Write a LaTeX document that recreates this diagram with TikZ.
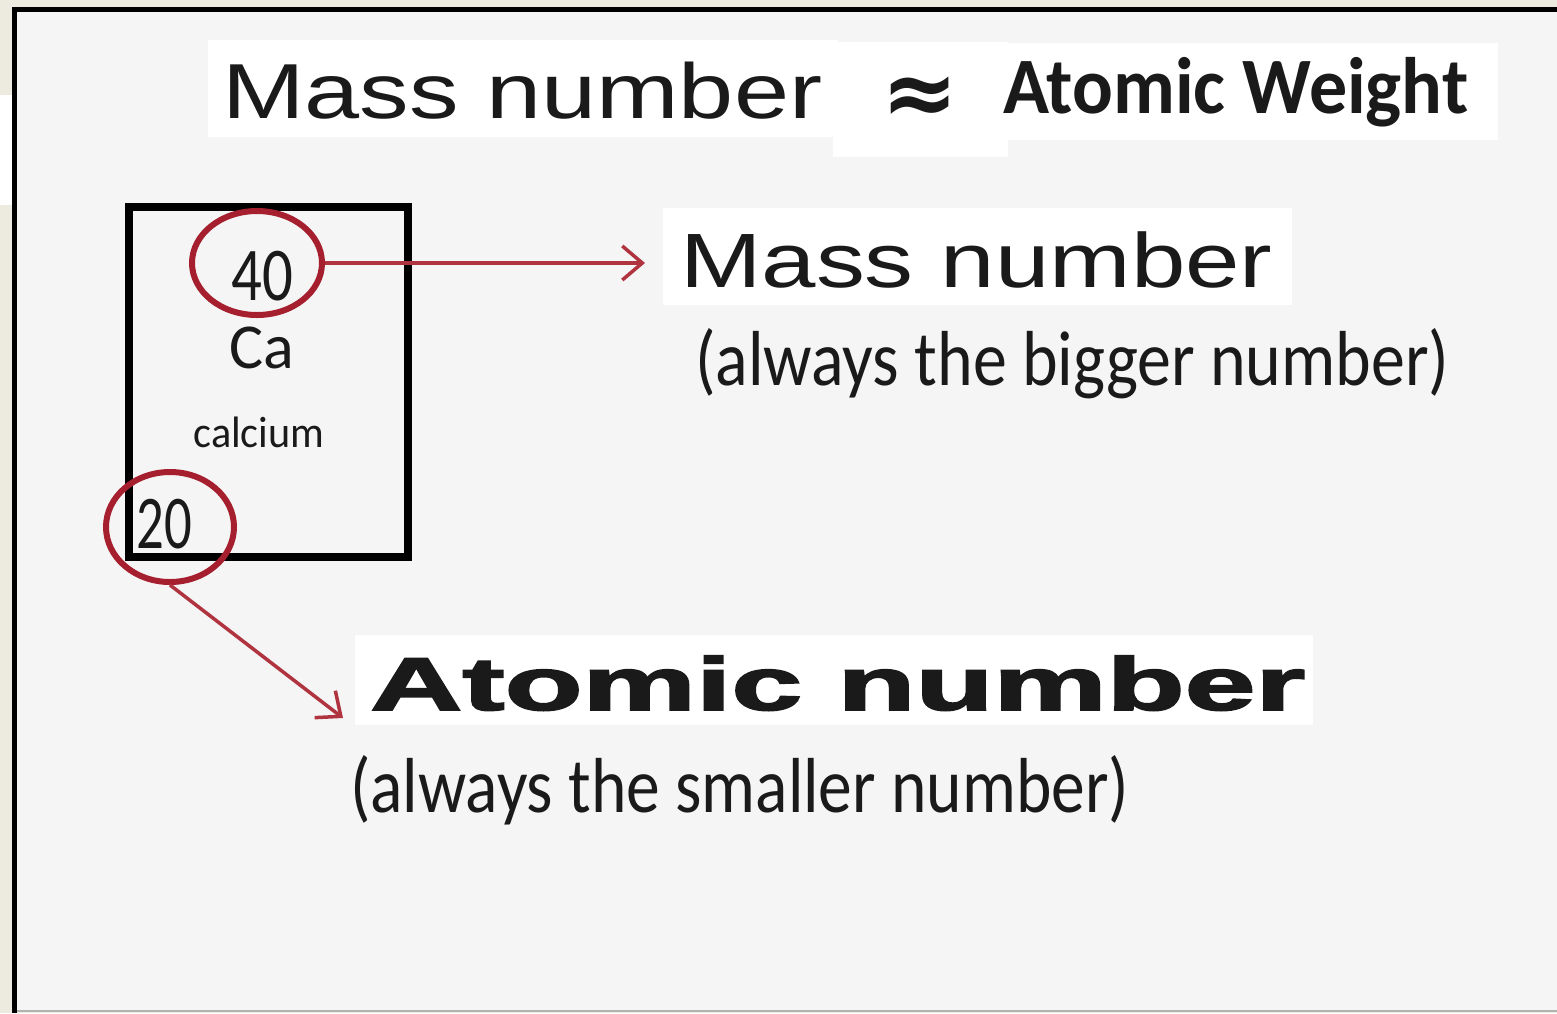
\documentclass[tikz,border=0pt]{standalone}
\usepackage{fontspec}
\usepackage{graphicx}
\usetikzlibrary{shapes.geometric,arrows.meta}
\setmainfont{Liberation Sans}
\newfontfamily\arialf{Liberation Sans}
\newfontfamily\calf{Carlito}
\newfontfamily\heavyf[FakeBold=2]{Liberation Sans Bold}
\newfontfamily\symf{DejaVu Sans}
\definecolor{beige}{HTML}{EDEADF}
\definecolor{panel}{HTML}{F5F5F5}
\definecolor{ered}{HTML}{A51F2E}
\definecolor{ared}{HTML}{B0343F}
\definecolor{ink}{HTML}{1A1A1A}
\newcommand{\fsz}[1]{\fontsize{#1}{#1}\selectfont}
\begin{document}
\begin{tikzpicture}[x=1pt,y=-1pt,
  wbox/.style={fill=white, inner sep=0, outer sep=0, anchor=north west},
  txt/.style={inner sep=0, anchor=base west, text=ink},
  ctxt/.style={inner sep=0, anchor=base, text=ink},
  ering/.style={ellipse, draw=ered, line width=6pt, inner sep=0},
  arr/.style={draw=ared, line width=3.5pt, -{Straight Barb[length=20pt,width=34pt]}}]
\useasboundingbox (0,0) rectangle (1557,1013);
% background and frame
\fill[beige] (0,0) rectangle (1557,1013);
\fill[white] (0,95) rectangle (12,205);
\fill[panel] (14,9) rectangle (1557,1011);
\draw[gray!60, line width=2pt] (14,1011) -- (1557,1011);
\draw[black, line width=5pt] (14,7) -- (14,1013);
\draw[black, line width=5pt] (12,9) -- (1557,9);
% white label boxes
\node[wbox, minimum width=630, minimum height=97] (b1) at (208,40) {};
\node[wbox, minimum width=175, minimum height=115] (b2) at (833,42) {};
\node[wbox, minimum width=506, minimum height=97] (b3) at (992,43) {};
\node[wbox, minimum width=629, minimum height=97] (b4) at (663,208) {};
\node[wbox, minimum width=958, minimum height=90] (b5) at (355,635) {};
% texts
\node[txt] (t1) at (222,118) {\arialf\fsz{78}\scalebox{1.27}[1]{Mass number}};
\node[ctxt] (t2) at (920,124) {\symf\bfseries\fsz{92}≈};
\node[txt] (t3) at (1003,113) {\calf\bfseries\fsz{80}\scalebox{0.95}[1]{Atomic Weight}};
\node[txt] (t4) at (680,287) {\arialf\fsz{77}\scalebox{1.27}[1]{Mass number}};
\node[txt] (t5) at (695,385) {\calf\fsz{78}\scalebox{0.87}[1]{(always the bigger number)}};
\node[txt] (t6) at (370,710) {\heavyf\fsz{75}\scalebox{1.7}[1]{Atomic number}};
\node[txt] (t7) at (350,812) {\calf\fsz{78}\scalebox{0.865}[1]{(always the smaller number)}};
% element box
\node[draw=black, line width=8pt, minimum width=279, minimum height=350, inner sep=0, outer sep=0, anchor=north west] (pbox) at (129,207) {};
\node[ctxt] (n40) at (262,300) {\calf\fsz{76}\scalebox{0.8}[1]{40}};
\node[ctxt] (nCa) at (262,368) {\calf\fsz{64}Ca};
\node[ctxt] (ncal) at (259,447) {\calf\fsz{44}\scalebox{0.96}[1]{calcium}};
\node[ctxt] (n20) at (164,548) {\calf\fsz{76}\scalebox{0.72}[1]{20}};
% red rings
\node[ering, minimum width=130, minimum height=104] (e40) at (257,263) {};
\node[ering, minimum width=128, minimum height=110] (e20) at (170,527) {};
% arrows
\coordinate (atip) at (343,718);
\draw[arr, shorten >=18pt] (e40.east) -- (e40.east -| b4.west);
\draw[arr] (e20.south) -- (atip);
\end{tikzpicture}
\end{document}
